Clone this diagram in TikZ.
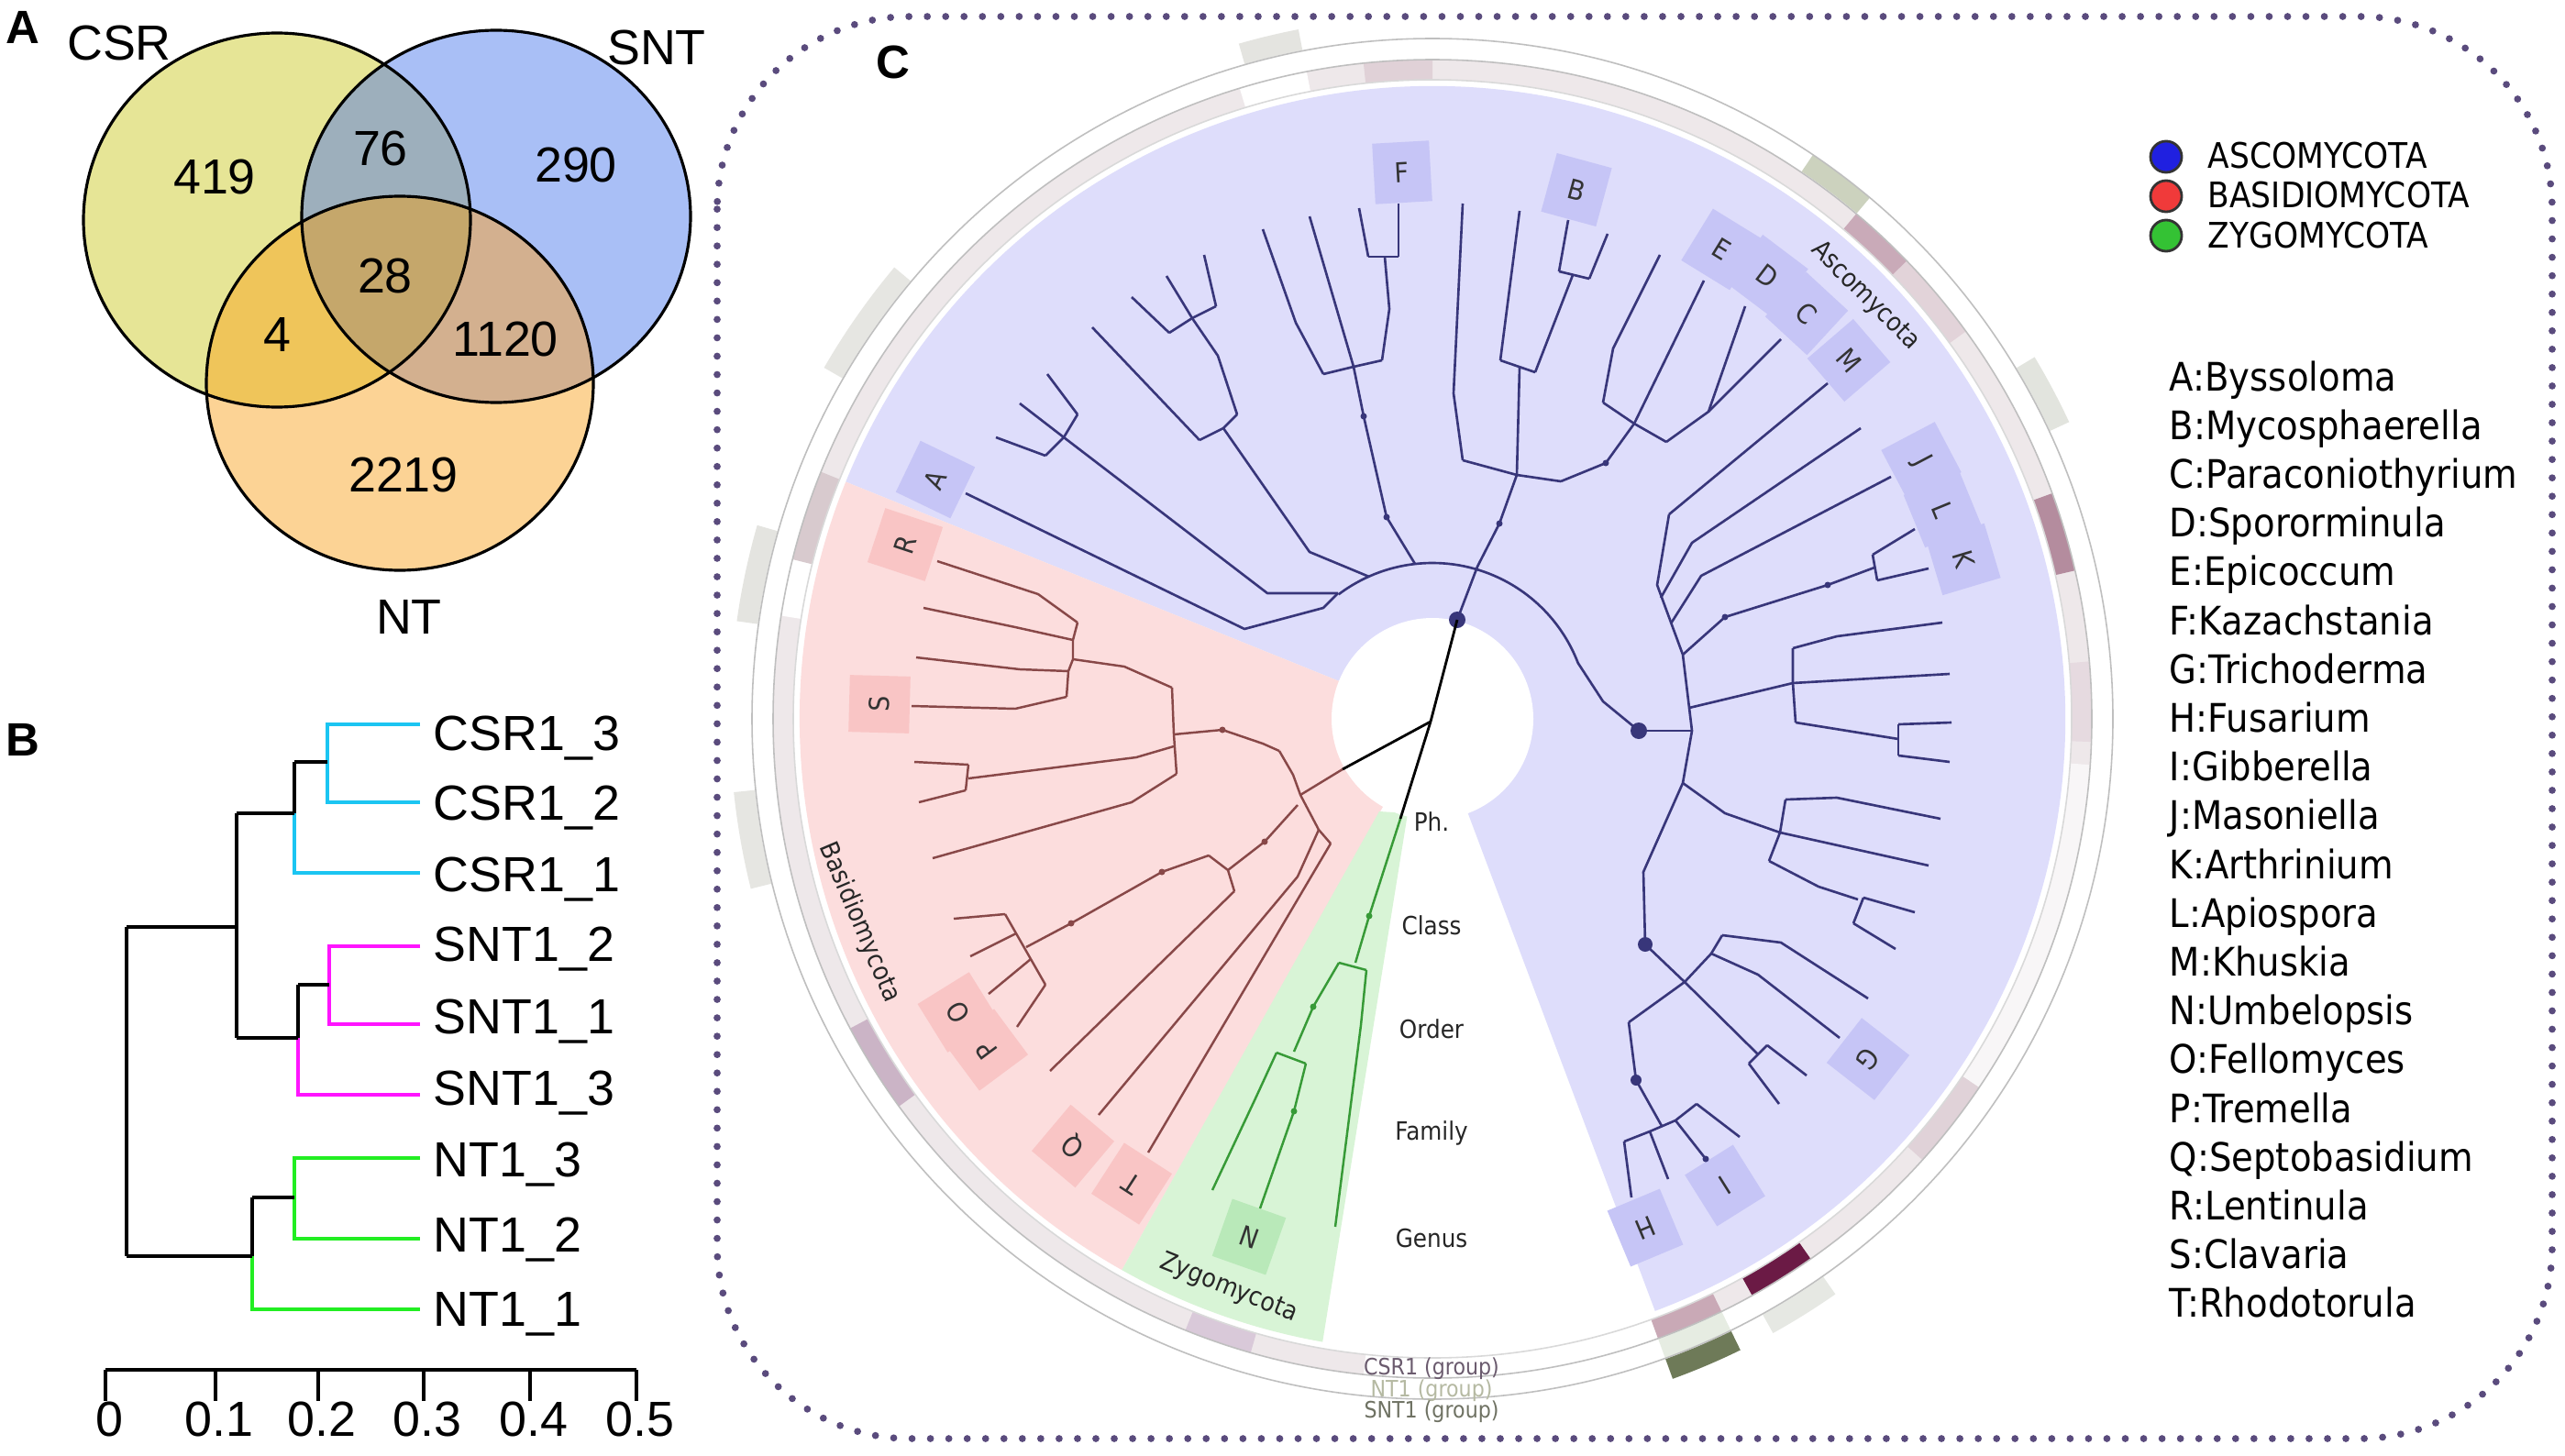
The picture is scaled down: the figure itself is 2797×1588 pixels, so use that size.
\documentclass[tikz,border=0pt]{standalone}
\usepackage{fontspec}
\setmainfont{Liberation Sans}
\newfontfamily\cf{DejaVu Sans}[FakeStretch=0.9]
\usetikzlibrary{calc}
\definecolor{vY}{HTML}{E6E596}
\definecolor{vB}{HTML}{A9BFF6}
\definecolor{vO}{HTML}{FCD395}
\definecolor{vYB}{HTML}{9DAFBC}
\definecolor{vYO}{HTML}{EFC55A}
\definecolor{vBO}{HTML}{D3B08F}
\definecolor{vYBO}{HTML}{C5A76B}
\definecolor{dcy}{HTML}{1BC5F2}
\definecolor{dmg}{HTML}{FF14FF}
\definecolor{dgr}{HTML}{22EE22}
\definecolor{bord}{HTML}{5A4B7D}
\definecolor{secB}{HTML}{DEDDFB}
\definecolor{secP}{HTML}{FCDDDD}
\definecolor{secG}{HTML}{D8F4D6}
\definecolor{boxB}{HTML}{C6C5F6}
\definecolor{boxP}{HTML}{F9C5C5}
\definecolor{boxG}{HTML}{B9E9B9}
\definecolor{lnA}{HTML}{38367A}
\definecolor{lnB}{HTML}{884848}
\definecolor{lnZ}{HTML}{379A37}
\definecolor{rbase}{HTML}{EEE8EA}
\definecolor{rl1}{HTML}{6B5B6E}
\definecolor{rl2}{HTML}{B5B9A2}
\definecolor{rl3}{HTML}{6F7263}
\definecolor{lgB}{HTML}{2020E0}
\definecolor{lgR}{HTML}{F03A3A}
\definecolor{lgG}{HTML}{34C234}
\definecolor{sa}{HTML}{C9A9B6}
\definecolor{sb}{HTML}{6B1A45}
\definecolor{sc}{HTML}{E0D2D8}
\definecolor{sd}{HTML}{E6DAE0}
\definecolor{se}{HTML}{B48C9E}
\definecolor{sf}{HTML}{E2D3D9}
\definecolor{sg}{HTML}{C9AAB8}
\definecolor{sh}{HTML}{E0D1D7}
\definecolor{si}{HTML}{D8CACE}
\definecolor{sj}{HTML}{CBB4C6}
\definecolor{sk}{HTML}{D9C9D9}
\definecolor{sl}{HTML}{CCD2BE}
\definecolor{sm}{HTML}{E6ECE2}
\definecolor{sn}{HTML}{E4E4E0}
\definecolor{so}{HTML}{E6E6E2}
\definecolor{sp}{HTML}{E2E4DE}
\definecolor{sq}{HTML}{6E7A58}
\definecolor{sr}{HTML}{E6E8E3}
\newcommand\rseg[5]{\fill[#5] ($(C)+(-#1:#3)$) arc[start angle=-#1,end angle=-#2,radius=#3] -- ($(C)+(-#2:#4)$) arc[start angle=-#2,end angle=-#1,radius=#4] -- cycle;}
\newcommand\lbox[4]{\node[lbx,fill=#4,rotate=#3] (bx#1) at (#2) {#1};}
\begin{document}
\begin{tikzpicture}[x=0.01cm,y=-0.01cm,
  vtxt/.style={font=\fontsize{15.3}{18}\selectfont, anchor=base, inner sep=0},
  dlab/.style={font=\fontsize{15.3}{18}\selectfont, anchor=base west, inner sep=0},
  plab/.style={font=\fontsize{14.5}{17}\selectfont\bfseries, anchor=base, inner sep=0},
  vc/.style={draw=black, line width=0.9pt},
  dk/.style={draw=black, line width=1pt},
  dc/.style={draw=dcy, line width=1pt},
  dm/.style={draw=dmg, line width=1pt},
  dg/.style={draw=dgr, line width=1pt},
  asco/.style={draw=lnA, line width=0.75pt, line join=round},
  basi/.style={draw=lnB, line width=0.7pt, line join=round},
  zygo/.style={draw=lnZ, line width=0.7pt, line join=round},
  blk/.style={draw=black, line width=0.8pt},
  rline/.style={draw=black!25, line width=0.45pt},
  lbx/.style={minimum width=0.62cm, minimum height=0.66cm, inner sep=0pt, font=\cf\fontsize{8.5}{9}\selectfont, text=black!80},
  leg/.style={font=\cf\fontsize{12.2}{14}\selectfont, anchor=base west, inner sep=0},
  phy/.style={font=\cf\fontsize{10.9}{13}\selectfont, anchor=base west, inner sep=0},
  clade/.style={font=\cf\fontsize{8}{9}\selectfont, inner sep=0, text=black!85},
  lvl/.style={font=\cf\fontsize{7.8}{9}\selectfont, inner sep=0, text=black!85},
  rlab/.style={font=\cf\fontsize{7}{8}\selectfont, inner sep=0},
  lgc/.style={circle, draw=black!80, line width=0.8pt, minimum size=0.34cm, inner sep=0}
]
\useasboundingbox (0,0) rectangle (2797,1588);
\fill[white] (0,0) rectangle (2797,1588);

% ---------------- Panel A : Venn ----------------
\fill[vY] (302,240) ellipse[x radius=211,y radius=204];
\fill[vB] (541,236) ellipse[x radius=212,y radius=203];
\fill[vO] (436,418) ellipse[x radius=211,y radius=204];
\begin{scope}
  \clip (302,240) ellipse[x radius=211,y radius=204];
  \fill[vYB] (541,236) ellipse[x radius=212,y radius=203];
  \fill[vYO] (436,418) ellipse[x radius=211,y radius=204];
  \clip (541,236) ellipse[x radius=212,y radius=203];
  \fill[vYBO] (436,418) ellipse[x radius=211,y radius=204];
\end{scope}
\begin{scope}
  \clip (541,236) ellipse[x radius=212,y radius=203];
  \fill[vBO] (436,418) ellipse[x radius=211,y radius=204];
  \clip (302,240) ellipse[x radius=211,y radius=204];
  \fill[vYBO] (436,418) ellipse[x radius=211,y radius=204];
\end{scope}
\draw[vc] (302,240) ellipse[x radius=211,y radius=204];
\draw[vc] (541,236) ellipse[x radius=212,y radius=203];
\draw[vc] (436,418) ellipse[x radius=211,y radius=204];
\node[plab] (pA) at (25,48) {A};
\node[vtxt] (tCSR) at (130,66) {CSR};
\node[vtxt] (tSNT) at (716,71) {SNT};
\node[vtxt] (tNT) at (446,691) {NT};
\node[vtxt] (n419) at (234,212) {419};
\node[vtxt] (n76) at (415,181) {76};
\node[vtxt] (n290) at (628,199) {290};
\node[vtxt] (n28) at (420,319) {28};
\node[vtxt] (n4) at (302,383) {4};
\node[vtxt] (n1120) at (551,388) {1120};
\node[vtxt] (n2219) at (440,536) {2219};

% ---------------- Panel B : dendrogram ----------------
\node[plab] (pB) at (25,824) {B};
\draw[dc] (458,790) -- (357,790) -- (357,875) -- (458,875);
\draw[dk] (321,831) -- (357,831);
\draw[dk] (321,831) -- (321,887);
\draw[dc] (321,887) -- (321,952) -- (458,952);
\draw[dk] (258,887) -- (321,887);
\draw[dm] (458,1032) -- (359,1032) -- (359,1117) -- (458,1117);
\draw[dk] (325,1074) -- (359,1074);
\draw[dk] (325,1074) -- (325,1132);
\draw[dm] (325,1132) -- (325,1194) -- (458,1194);
\draw[dk] (258,1132) -- (325,1132);
\draw[dk] (258,887) -- (258,1132);
\draw[dk] (138,1011) -- (258,1011);
\draw[dg] (458,1263) -- (321,1263) -- (321,1351) -- (458,1351);
\draw[dk] (275,1306) -- (321,1306);
\draw[dk] (275,1306) -- (275,1370);
\draw[dg] (275,1370) -- (275,1428) -- (458,1428);
\draw[dk] (138,1370) -- (275,1370);
\draw[dk] (138,1011) -- (138,1370);
\node[dlab] (d1) at (472,818) {CSR1\_3};
\node[dlab] (d2) at (472,894) {CSR1\_2};
\node[dlab] (d3) at (472,972) {CSR1\_1};
\node[dlab] (d4) at (472,1048) {SNT1\_2};
\node[dlab] (d5) at (472,1127) {SNT1\_1};
\node[dlab] (d6) at (472,1205) {SNT1\_3};
\node[dlab] (d7) at (472,1283) {NT1\_3};
\node[dlab] (d8) at (472,1365) {NT1\_2};
\node[dlab] (d9) at (472,1446) {NT1\_1};
\draw[dk] (115,1494) -- (694,1494);
\foreach \tx/\lab [count=\i] in {115/0,235/0.1,347/0.2,462/0.3,578/0.4,694/0.5}{
  \draw[dk] (\tx,1494) -- (\tx,1528);
  \node[vtxt] (ax\i) at (\tx+4,1566) {\lab};
}

% ---------------- Panel C ----------------
\draw[bord, line width=2.2pt, line cap=round, dash pattern=on 0pt off 5.7pt, rounded corners=2.1cm] (782,18) rectangle (2783,1569);
\node[plab] (pC) at (974,86) {C};
\coordinate (C) at (1562,784);
\coordinate (R0) at (1560,787);

% sectors
\fill[secB] (C) -- ($(C)+(-158:690)$) arc[start angle=-158,end angle=69.4,radius=690] -- cycle;
\fill[secP] (C) -- ($(C)+(-240.6:690)$) arc[start angle=-240.6,end angle=-158,radius=690] -- cycle;
\fill[secG] (1504,885) -- ($(C)+(-240.6:690)$) arc[start angle=-240.6,end angle=-260,radius=690] -- (1535,887) -- cycle;
\fill[white] (C) circle[radius=110];

% rings
\rseg{290}{624}{697}{719}{rbase}
\rseg{326}{356}{697}{719}{white!60!rbase}
\rseg{101}{107}{697}{719}{white}
\rseg{164}{171}{697}{719}{white}
\rseg{290}{296}{697}{719}{sa}
\rseg{299}{305}{697}{719}{sb}
\rseg{318}{326}{697}{719}{sc}
\rseg{358}{365}{697}{719}{sd}
\rseg{373}{380}{697}{719}{se}
\rseg{396}{404}{697}{719}{sf}
\rseg{404}{410}{697}{719}{sg}
\rseg{450}{456}{697}{719}{sh}
\rseg{518}{526}{697}{719}{si}
\rseg{568}{576}{697}{719}{sj}
\rseg{608}{614}{697}{719}{sk}
\rseg{50}{56}{720}{742}{sl}
\rseg{290}{296}{720}{742}{sm}
\rseg{101}{106}{743}{766}{sn}
\rseg{140}{150}{743}{766}{so}
\rseg{164}{172}{743}{766}{sn}
\rseg{186}{194}{743}{766}{so}
\rseg{25}{31}{743}{766}{sp}
\rseg{290}{296}{743}{766}{sq}
\rseg{299}{305}{743}{766}{sr}
\draw[rline, draw=black!15] (C) circle[radius=697];
\draw[rline] (C) circle[radius=719];
\draw[rline] (C) circle[radius=742];
\node[rlab, text=rl1] (rg1) at (1561,1493) {CSR1 (group)};
\node[rlab, text=rl2] (rg2) at (1561,1517) {NT1 (group)};
\node[rlab, text=rl3] (rg3) at (1561,1540) {SNT1 (group)};

% letter boxes
\lbox{A}{1020,523}{64.3}{boxB}
\lbox{F}{1529,188}{3.2}{boxB}
\lbox{B}{1719,207}{-15.2}{boxB}
\lbox{E}{1877,272}{-31.6}{boxB}
\lbox{D}{1927,301}{-37.1}{boxB}
\lbox{C}{1970,342}{-42.7}{boxB}
\lbox{M}{2016,393}{-49.3}{boxB}
\lbox{J}{2095,503}{-62.2}{boxB}
\lbox{L}{2118,556}{-67.7}{boxB}
\lbox{K}{2141,610}{-73.3}{boxB}
\lbox{G}{2037,1155}{-128}{boxB}
\lbox{I}{1881,1293}{-147.9}{boxB}
\lbox{H}{1794,1339}{-157.3}{boxB}
\lbox{R}{987,594}{71.7}{boxP}
\lbox{S}{959,768}{88.5}{boxP}
\lbox{O}{1045,1104}{121.8}{boxP}
\lbox{P}{1076,1145}{126.6}{boxP}
\lbox{Q}{1170,1250}{139.9}{boxP}
\lbox{T}{1234,1291}{147.1}{boxP}
\lbox{N}{1362,1349}{160.5}{boxG}

% ---- Ascomycota tree ----
\draw[asco] (1053,538) -- (1357,686) -- (1443,663) -- (1459,647);
\draw[asco] ($(C)+(-127:170)$) arc[start angle=-127,end angle=-21,radius=170] -- (1748,765) -- (1787,797);
\draw[asco] (1459,647) -- (1382,647) -- (1160,477) -- (1112,440);
\draw[asco] (1140,497) -- (1160,477) -- (1175,452);
\draw[asco] (1140,497) -- (1086,477);
\draw[asco] (1175,452) -- (1142,408);
\draw[asco] (1493,629) -- (1428,602) -- (1334,467);
\draw[asco] (1308,480) -- (1334,467) -- (1349,452);
\draw[asco] (1308,480) -- (1191,357);
\draw[asco] (1349,452) -- (1328,388) -- (1300,347);
\draw[asco] (1275,363) -- (1300,347) -- (1326,334);
\draw[asco] (1275,363) -- (1234,324);
\draw[asco] (1300,347) -- (1272,301);
\draw[asco] (1326,334) -- (1313,278);
\draw[asco] (1543,615) -- (1512,564) -- (1487,454) -- (1476,400);
\draw[asco] (1443,408) -- (1476,400) -- (1507,393);
\draw[asco] (1443,408) -- (1413,352) -- (1377,250);
\draw[asco] (1476,400) -- (1428,236);
\draw[asco] (1507,393) -- (1515,337) -- (1510,280);
\draw[asco] (1492,280) -- (1525,280);
\draw[asco] (1492,280) -- (1482,227);
\draw[asco] (1525,280) -- (1525,222);
\draw[asco] (1589,676) -- (1611,618) -- (1635,571) -- (1654,518) -- (1657,400);
\draw[asco] (1595,502) -- (1654,518) -- (1702,525);
\draw[asco] (1595,502) -- (1585,429) -- (1595,222);
\draw[asco] (1636,393) -- (1674,406);
\draw[asco] (1636,393) -- (1657,230);
\draw[asco] (1674,406) -- (1715,300);
\draw[asco] (1700,296) -- (1733,304);
\draw[asco] (1700,296) -- (1710,240);
\draw[asco] (1733,304) -- (1753,255);
\draw[asco] (1702,525) -- (1751,505) -- (1782,462);
\draw[asco] (1748,439) -- (1782,462) -- (1817,482);
\draw[asco] (1748,439) -- (1759,380) -- (1810,278);
\draw[asco] (1782,462) -- (1858,306);
\draw[asco] (1817,482) -- (1863,449) -- (1903,334);
\draw[asco] (1863,449) -- (1942,370);
\draw[asco] (1787,797) -- (1845,797);
\draw[asco] (1820,561) -- (1807,638) -- (1835,714) -- (1845,797) -- (1835,854) -- (1792,951) -- (1794,1030);
\draw[asco] (1820,561) -- (1993,418);
\draw[asco] (1811,652) -- (1845,592) -- (2029,467);
\draw[asco] (1822,680) -- (1855,628) -- (2062,520);
\draw[asco] (1835,714) -- (1881,673) -- (1993,638) -- (2044,619);
\draw[asco] (2042,605) -- (2047,633);
\draw[asco] (2042,605) -- (2088,577);
\draw[asco] (2047,633) -- (2103,620);
\draw[asco] (1842,772) -- (1955,745);
\draw[asco] (1955,707) -- (1955,745) -- (1958,788);
\draw[asco] (1955,707) -- (2003,694) -- (2118,679);
\draw[asco] (1955,745) -- (2126,735);
\draw[asco] (1958,788) -- (2070,806);
\draw[asco] (2070,790) -- (2070,824);
\draw[asco] (2070,790) -- (2128,788);
\draw[asco] (2070,824) -- (2126,831);
\draw[asco] (1835,854) -- (1881,887) -- (1941,908);
\draw[asco] (1947,872) -- (1941,908) -- (1929,939);
\draw[asco] (1947,872) -- (2003,870) -- (2116,893);
\draw[asco] (1941,908) -- (2103,944);
\draw[asco] (1929,939) -- (1983,967) -- (2026,981);
\draw[asco] (2032,979) -- (2021,1007);
\draw[asco] (2032,979) -- (2088,995);
\draw[asco] (2021,1007) -- (2067,1035);
\draw[asco] (1794,1030) -- (1837,1071) -- (1917,1150);
\draw[asco] (1907,1160) -- (1927,1140);
\draw[asco] (1907,1160) -- (1940,1204);
\draw[asco] (1927,1140) -- (1970,1173);
\draw[asco] (1776,1115) -- (1837,1071) -- (1866,1040) -- (1878,1020);
\draw[asco] (1878,1020) -- (1942,1028) -- (2037,1089);
\draw[asco] (1866,1040) -- (1917,1063) -- (2006,1132);
\draw[asco] (1776,1115) -- (1784,1178) -- (1812,1228);
\draw[asco] (1771,1245) -- (1799,1234) -- (1827,1222) -- (1850,1204);
\draw[asco] (1771,1245) -- (1779,1306);
\draw[asco] (1799,1234) -- (1819,1286);
\draw[asco] (1827,1222) -- (1860,1264);
\draw[asco] (1850,1204) -- (1897,1240);
\foreach \p in {(1589,676),(1787,797)} \fill[lnA] \p circle[radius=9];
\fill[lnA] (1794,1030) circle[radius=8];
\fill[lnA] (1784,1178) circle[radius=6];
\foreach \p in {(1512,564),(1487,454),(1635,571),(1751,505),(1881,673),(1993,638),(1860,1264)} \fill[lnA] \p circle[radius=3.5];

% ---- Basidiomycota tree ----
\draw[basi] (1464,839) -- (1418,867);
\draw[basi] (1395,819) -- (1410,845) -- (1418,867) -- (1438,905) -- (1451,920);
\draw[basi] (1395,819) -- (1377,811) -- (1333,796) -- (1280,801);
\draw[basi] (1278,750) -- (1280,801) -- (1283,844);
\draw[basi] (1278,750) -- (1226,727) -- (1170,719);
\draw[basi] (1175,679) -- (1170,698) -- (1170,719) -- (1165,732) -- (1163,760);
\draw[basi] (1175,679) -- (1132,648) -- (1022,612);
\draw[basi] (1170,698) -- (1107,684) -- (1007,663);
\draw[basi] (1165,732) -- (1112,730) -- (999,717);
\draw[basi] (1163,760) -- (1107,773) -- (994,770);
\draw[basi] (1280,814) -- (1239,826) -- (1056,849);
\draw[basi] (1056,834) -- (1053,862);
\draw[basi] (1056,834) -- (997,831);
\draw[basi] (1053,862) -- (1002,875);
\draw[basi] (1283,844) -- (1234,875) -- (1017,936);
\draw[basi] (1415,878) -- (1379,918) -- (1339,949);
\draw[basi] (1318,933) -- (1339,949) -- (1346,972);
\draw[basi] (1318,933) -- (1267,951) -- (1168,1007) -- (1119,1033);
\draw[basi] (1096,997) -- (1108,1018) -- (1124,1046) -- (1140,1074);
\draw[basi] (1096,997) -- (1040,1002);
\draw[basi] (1108,1018) -- (1058,1043);
\draw[basi] (1124,1046) -- (1078,1084);
\draw[basi] (1140,1074) -- (1109,1120);
\draw[basi] (1346,972) -- (1145,1168);
\draw[basi] (1438,905) -- (1415,956) -- (1198,1216);
\draw[basi] (1451,920) -- (1252,1257);
\foreach \p in {(1333,796),(1379,918),(1267,951),(1168,1007)} \fill[lnB] \p circle[radius=3.5];

% ---- Zygomycota tree ----
\draw[zygo] (1527,893) -- (1493,999) -- (1478,1050);
\draw[zygo] (1460,1050) -- (1490,1058);
\draw[zygo] (1460,1050) -- (1432,1098) -- (1411,1147);
\draw[zygo] (1392,1148) -- (1424,1160);
\draw[zygo] (1392,1148) -- (1369,1198) -- (1322,1298);
\draw[zygo] (1424,1160) -- (1411,1212) -- (1374,1318);
\draw[zygo] (1490,1058) -- (1484,1118) -- (1456,1338);
\foreach \p in {(1493,999),(1432,1098),(1411,1212)} \fill[lnZ] \p circle[radius=3.5];

% ---- root edges ----
\draw[blk] (R0) -- (1589,676);
\draw[blk] (R0) -- (1464,839);
\draw[blk] (R0) -- (1527,893);

% clade names and levels
\node[clade, rotate=-45] (kA) at (2034,323) {Ascomycota};
\node[clade, rotate=-67] (kB) at (937,1006) {Basidiomycota};
\node[clade, rotate=-22] (kZ) at (1340,1405) {Zygomycota};
\node[lvl] (lv1) at (1561,896) {Ph.};
\node[lvl] (lv2) at (1561,1009) {Class};
\node[lvl] (lv3) at (1561,1122) {Order};
\node[lvl] (lv4) at (1561,1236) {Family};
\node[lvl] (lv5) at (1561,1350) {Genus};

% legend
\node[lgc, fill=lgB] (c1) at (2362,171) {};
\node[lgc, fill=lgR] (c2) at (2362,214) {};
\node[lgc, fill=lgG] (c3) at (2362,257) {};
\node[phy] (p1) at (2407,184) {ASCOMYCOTA};
\node[phy] (p2) at (2407,227) {BASIDIOMYCOTA};
\node[phy] (p3) at (2407,270) {ZYGOMYCOTA};
\foreach \t [count=\i from 0] in {A:Byssoloma,B:Mycosphaerella,C:Paraconiothyrium,D:Spororminula,E:Epicoccum,F:Kazachstania,G:Trichoderma,H:Fusarium,I:Gibberella,J:Masoniella,K:Arthrinium,L:Apiospora,M:Khuskia,N:Umbelopsis,O:Fellomyces,P:Tremella,Q:Septobasidium,R:Lentinula,S:Clavaria,T:Rhodotorula}
  \node[leg] (lg\i) at (2365,{426+53.2*\i}) {\t};
\end{tikzpicture}
\end{document}
